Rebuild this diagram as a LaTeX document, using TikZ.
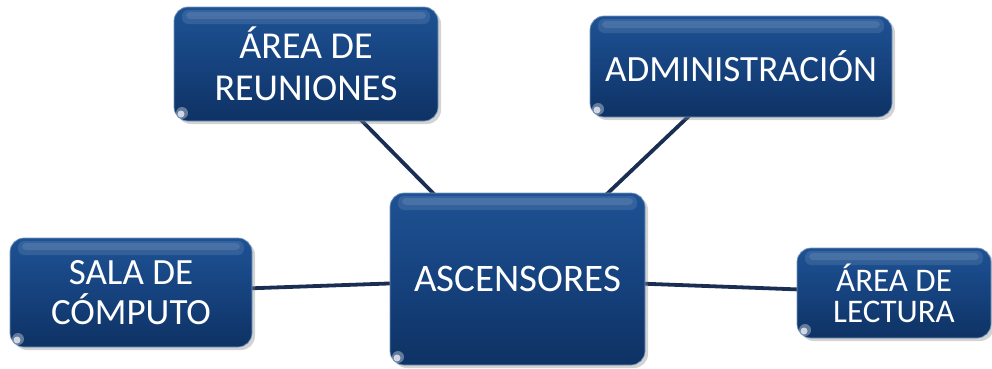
\documentclass[tikz,border=0pt]{standalone}
\usepackage{fontspec}
\setmainfont{Carlito}
\usetikzlibrary{shadows}
\pgfdeclarelayer{bg}
\pgfsetlayers{bg,main}
\definecolor{boxtop}{RGB}{30,82,148}
\definecolor{boxmid}{RGB}{22,66,126}
\definecolor{boxbot}{RGB}{14,50,100}
\definecolor{linec}{RGB}{26,46,84}
\tikzset{
  gbox/.style={rectangle, rounded corners=14pt, draw=boxtop!60!white, line width=0.7pt,
    top color=boxtop, bottom color=boxbot, middle color=boxmid,
    text=white, align=center, inner sep=0pt,
    drop shadow={opacity=0.35, shadow xshift=3pt, shadow yshift=-3pt},
    path picture={
      \fill[white, opacity=0.10, rounded corners=6pt]
        ([xshift=8pt,yshift=-3pt]path picture bounding box.north west) rectangle
        ([xshift=-8pt,yshift=-17pt]path picture bounding box.north east);
      \fill[white, opacity=0.10, rounded corners=4pt]
        ([xshift=12pt,yshift=-5pt]path picture bounding box.north west) rectangle
        ([xshift=-12pt,yshift=-12pt]path picture bounding box.north east);
      \fill[white, opacity=0.35]
        ([xshift=8pt,yshift=8pt]path picture bounding box.south west) circle (6pt);
      \fill[white, opacity=0.7]
        ([xshift=7pt,yshift=7pt]path picture bounding box.south west) circle (3.5pt);
    }},
  conn/.style={draw=linec, line width=3.8pt}
}
\begin{document}
\begin{tikzpicture}[x=1pt,y=1pt]
\useasboundingbox (0,0) rectangle (992,368);
\node[gbox, minimum width=264pt, minimum height=114pt, font=\fontsize{38}{42}\selectfont]
  (reun) at (306,304) {ÁREA DE\\REUNIONES};
\node[gbox, minimum width=302pt, minimum height=101pt, font=\fontsize{37}{42}\selectfont]
  (admin) at (741,301.5) {ADMINISTRACIÓN};
\node[gbox, minimum width=255pt, minimum height=172pt, font=\fontsize{39}{44}\selectfont]
  (asc) at (517.5,89) {ASCENSORES};
\node[gbox, minimum width=242pt, minimum height=109pt, font=\fontsize{37}{40}\selectfont]
  (sala) at (131,75.5) {SALA DE\\CÓMPUTO};
\node[gbox, minimum width=194pt, minimum height=90pt, font=\fontsize{33}{31}\selectfont]
  (lect) at (894,75) {ÁREA DE\\LECTURA};
\begin{pgfonlayer}{bg}
  \draw[conn] (reun.center) -- (asc.center);
  \draw[conn] (admin.center) -- (asc.center);
  \draw[conn] (sala.center) -- (asc.center);
  \draw[conn] (lect.center) -- (asc.center);
\end{pgfonlayer}
\end{tikzpicture}
\end{document}
